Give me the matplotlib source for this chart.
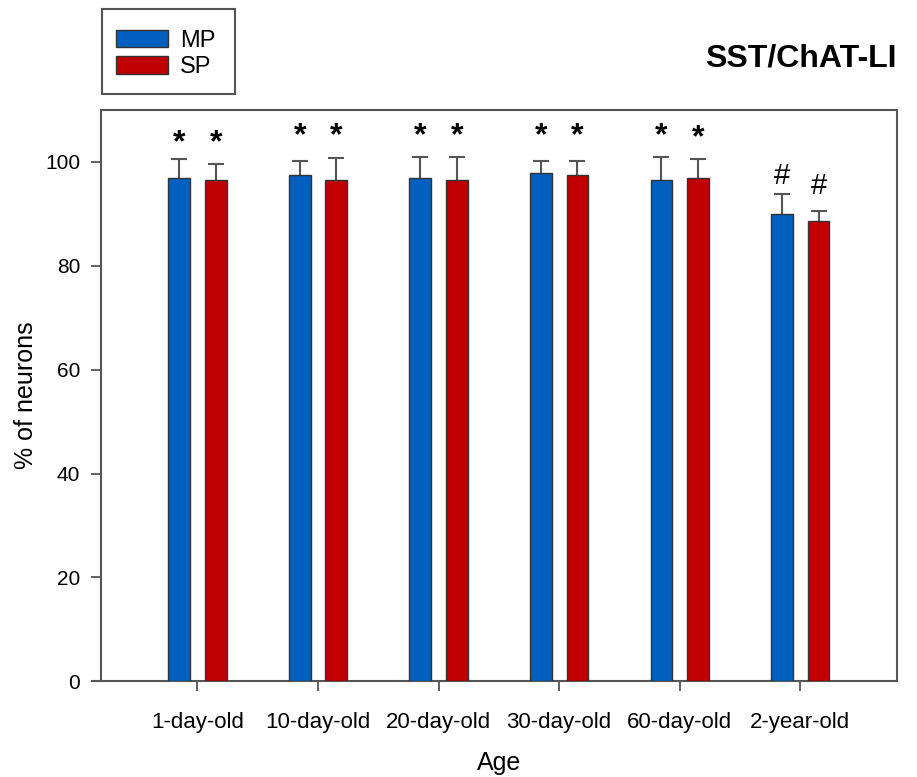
import matplotlib
matplotlib.use("Agg")
import matplotlib.pyplot as plt
from matplotlib.patches import Rectangle
from matplotlib.lines import Line2D
import numpy as np

plt.rcParams["font.family"] = ["Liberation Sans", "DejaVu Sans"]

ages = ["1-day-old", "10-day-old", "20-day-old", "30-day-old", "60-day-old", "2-year-old"]
mp_vals = [97.0, 97.5, 97.0, 97.9, 96.6, 89.9]
mp_err = [3.5, 2.6, 4.0, 2.2, 4.4, 4.0]
sp_vals = [96.6, 96.6, 96.6, 97.5, 97.0, 88.7]
sp_err = [3.1, 4.1, 4.4, 2.6, 3.5, 1.8]
mp_marks = ["*", "*", "*", "*", "*", "#"]
sp_marks = ["*", "*", "*", "*", "*", "#"]
mp_mark_y = [103.6, 105.0, 105.0, 104.9, 104.9, 97.3]
sp_mark_y = [103.6, 105.0, 105.0, 104.9, 104.5, 95.4]

BLUE = "#005fbf"
RED = "#c00000"
EDGE = "#333333"
ERR = "#555555"

fig = plt.figure(figsize=(9.17, 7.77), dpi=100)
ax = fig.add_axes([0.1101, 0.1232, 0.8678, 0.7352])

x = np.arange(len(ages))
off, w = 0.152, 0.18
ax.bar(x - off, mp_vals, w, color=BLUE, edgecolor=EDGE, linewidth=1, label="MP", zorder=3)
ax.bar(x + off, sp_vals, w, color=RED, edgecolor=EDGE, linewidth=1, label="SP", zorder=3)
# upper error bars only; the lower cap sits hidden under the bar top
err_kw = dict(fmt="none", ecolor=ERR, elinewidth=1.5, capsize=6, capthick=1.5, zorder=2)
ax.errorbar(x - off, mp_vals, yerr=mp_err, **err_kw)
ax.errorbar(x + off, sp_vals, yerr=sp_err, **err_kw)

for xs, marks, ys in [(x - off, mp_marks, mp_mark_y), (x + off, sp_marks, sp_mark_y)]:
    for xi, m, my in zip(xs, marks, ys):
        if m == "*":
            ax.text(xi, my, m, ha="center", va="center", fontsize=23, fontweight="bold")
        else:
            ax.text(xi, my, m, ha="center", va="center", fontsize=21)

ax.set_xlim(-0.80, 5.80)
ax.set_ylim(0, 110)
ax.set_xticks(x)
ax.set_xticklabels(ages)
ax.set_yticks([0, 20, 40, 60, 80, 100])
ax.tick_params(axis="both", direction="out", length=7, width=1.3, color="#555555",
               labelsize=15, pad=8)
ax.tick_params(axis="x", labelsize=16, pad=15)
for sp in ax.spines.values():
    sp.set_color("#555555")
    sp.set_linewidth(1.5)

# bottom axis line runs a little past the left spine
ax.add_line(Line2D([-0.011, 0], [0, 0], transform=ax.transAxes, color="#555555",
                   lw=1.5, clip_on=False))

ax.set_xlabel("Age", fontsize=18, labelpad=13)
ax.set_ylabel("% of neurons", fontsize=18, labelpad=5)

fig.text(0.8735, 0.925, "SST/ChAT-LI", fontsize=23, fontweight="bold",
         ha="center", va="center")

# legend box
fig.patches.append(Rectangle((0.111, 0.879), 0.145, 0.109, transform=fig.transFigure,
                             fill=False, edgecolor="#555555", lw=1.5))
fig.legend(loc="upper left", bbox_to_anchor=(0.127, 0.962), frameon=False,
           fontsize=17, handlelength=2.2, handleheight=0.76, handletextpad=0.5,
           labelspacing=0.2, borderpad=0, borderaxespad=0)

fig.savefig("out.png", dpi=100)
